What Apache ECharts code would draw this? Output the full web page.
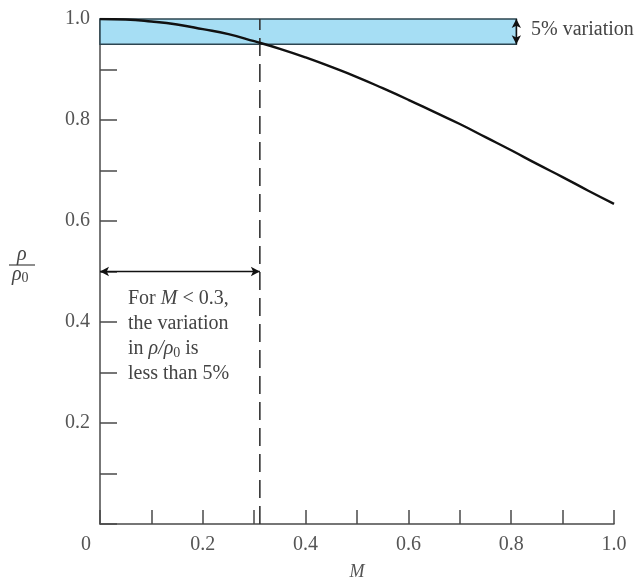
<!DOCTYPE html>
<html>
<head>
<meta charset="utf-8">
<script src="https://cdn.jsdelivr.net/npm/echarts@6/dist/echarts.min.js"></script>
<style>
  html, body { margin: 0; padding: 0; background: #fff; }
  #chart { width: 643px; height: 580px; }
</style>
</head>
<body>
<div id="chart"></div>
<script>
  "use strict";
  // curve
  var machNumbers = [0, 0.05, 0.1, 0.15, 0.2, 0.25, 0.3, 0.35, 0.4, 0.45, 0.5,
    0.55, 0.6, 0.65, 0.7, 0.75, 0.8, 0.85, 0.9, 0.95, 1.0];
  var densityRatio = [1.000, 0.999, 0.995, 0.989, 0.980, 0.970, 0.956, 0.941, 0.924, 0.905, 0.885,
    0.863, 0.840, 0.816, 0.792, 0.766, 0.740, 0.713, 0.687, 0.660, 0.634];
  var band = [0.95, 1.0];        // 5% variation band
  var bandEnd = 0.81;            // band stops here on M
  var limitMach = 0.311;         // dashed line
  var arrowLevel = 0.5;          // horizontal arrow height
  var xTickLabels = ['0', '0.2', '0.4', '0.6', '0.8', '1.0'];
  var yTickLabels = ['0.2', '0.4', '0.6', '0.8', '1.0'];

  var serif = '"Liberation Serif", "DejaVu Serif", serif';
  var axisColor = '#4a4a4a';
  var labelColor = '#555';
  var fs = 20;

  var curve = machNumbers.map(function (m, i) { return [m, densityRatio[i]]; });

  function pickLabel(list, withZero) {
    return function (v) {
      var r = Math.round(v * 10);
      if (r % 2) return '';
      if (r === 0) return withZero ? '{z|' + list[0] + '}' : '';
      return withZero ? list[r / 2] : list[r / 2 - 1];
    };
  }

  var chart = echarts.init(document.getElementById('chart'));
  chart.setOption({
    animation: false,
    grid: {left: 100, right: 29, top: 19, bottom: 56, containLabel: false, outerBoundsMode: 'none'},
    xAxis: {
      type: 'value', min: 0, max: 1, interval: 0.1,
      name: 'M', nameLocation: 'middle', nameGap: 39,
      nameTextStyle: {fontFamily: serif, fontStyle: 'italic', fontSize: 18, color: labelColor},
      axisLine: {lineStyle: {color: axisColor, width: 1.5}},
      axisTick: {inside: true, length: 14, lineStyle: {color: axisColor, width: 1.5}},
      axisLabel: {
        formatter: pickLabel(xTickLabels, true), margin: 11, fontFamily: serif, fontSize: fs, color: labelColor,
        showMinLabel: true, showMaxLabel: true,
        rich: {z: {fontFamily: serif, fontSize: fs, color: labelColor, padding: [0, 28, 0, 0]}}
      },
      splitLine: {show: false}
    },
    yAxis: {
      type: 'value', min: 0, max: 1, interval: 0.1,
      axisLine: {show: true, lineStyle: {color: axisColor, width: 1.5}},
      axisTick: {show: true, inside: true, length: 17, lineStyle: {color: axisColor, width: 1.5}},
      axisLabel: {formatter: pickLabel(yTickLabels, false), margin: 10, fontFamily: serif, fontSize: fs, color: labelColor},
      splitLine: {show: false}
    },
    series: [
      {
        type: 'line', data: [], silent: true,
        markArea: {
          silent: true,
          itemStyle: {color: '#a6def4', borderColor: '#2d4550', borderWidth: 1.5},
          data: [[{coord: [0, band[1]]}, {coord: [bandEnd, band[0]]}]]
        },
        markLine: {
          silent: true,
          symbol: ['arrow', 'arrow'],
          symbolSize: [7, 9],
          label: {show: false},
          lineStyle: {color: '#111', width: 1.3, type: 'solid'},
          data: [
            [{coord: [0, arrowLevel]}, {coord: [limitMach, arrowLevel]}],
            [{coord: [bandEnd, band[1]]}, {coord: [bandEnd, band[0]]}]
          ]
        }
      },
      {
        type: 'line', data: [[limitMach, 0], [limitMach, 1]],
        symbol: 'none', silent: true,
        lineStyle: {color: '#333', width: 1.6, type: [18, 8]}
      },
      {
        type: 'line', data: curve, smooth: true,
        symbol: 'none', silent: true,
        lineStyle: {color: '#111', width: 2.4}
      }
    ],
    graphic: [
      {
        type: 'text', left: 531, top: 20,
        style: {text: '5% variation', fontFamily: serif, fontSize: fs, fill: '#444'}
      },
      {
        type: 'text', left: 128, top: 289,
        style: {
          text: '{n|For }{i|M}{n| < 0.3,}\n{n|the variation}\n{n|in }{i|ρ/ρ}{s|0}{n| is}\n{n|less than 5%}',
          fill: '#444',
          rich: {
            n: {fontFamily: serif, fontSize: fs, lineHeight: 25, fill: '#444'},
            i: {fontFamily: serif, fontSize: fs, fontStyle: 'italic', lineHeight: 25, fill: '#444'},
            s: {fontFamily: serif, fontSize: 14, lineHeight: 25, padding: [8, 0, 0, 0], fill: '#444'}
          }
        }
      },
      {
        type: 'text', left: 17, top: 245,
        style: {text: 'ρ', fontFamily: serif, fontSize: 20, fontStyle: 'italic', fill: '#444'}
      },
      {
        type: 'line', shape: {x1: 9, y1: 265, x2: 35, y2: 265},
        style: {stroke: '#444', lineWidth: 1.2}
      },
      {
        type: 'text', left: 12, top: 265,
        style: {
          text: '{i|ρ}{s|0}',
          rich: {
            i: {fontFamily: serif, fontSize: 20, fontStyle: 'italic', fill: '#444'},
            s: {fontFamily: serif, fontSize: 14, padding: [7, 0, 0, 0], fill: '#444'}
          }
        }
      }
    ]
  });
</script>
</body>
</html>
